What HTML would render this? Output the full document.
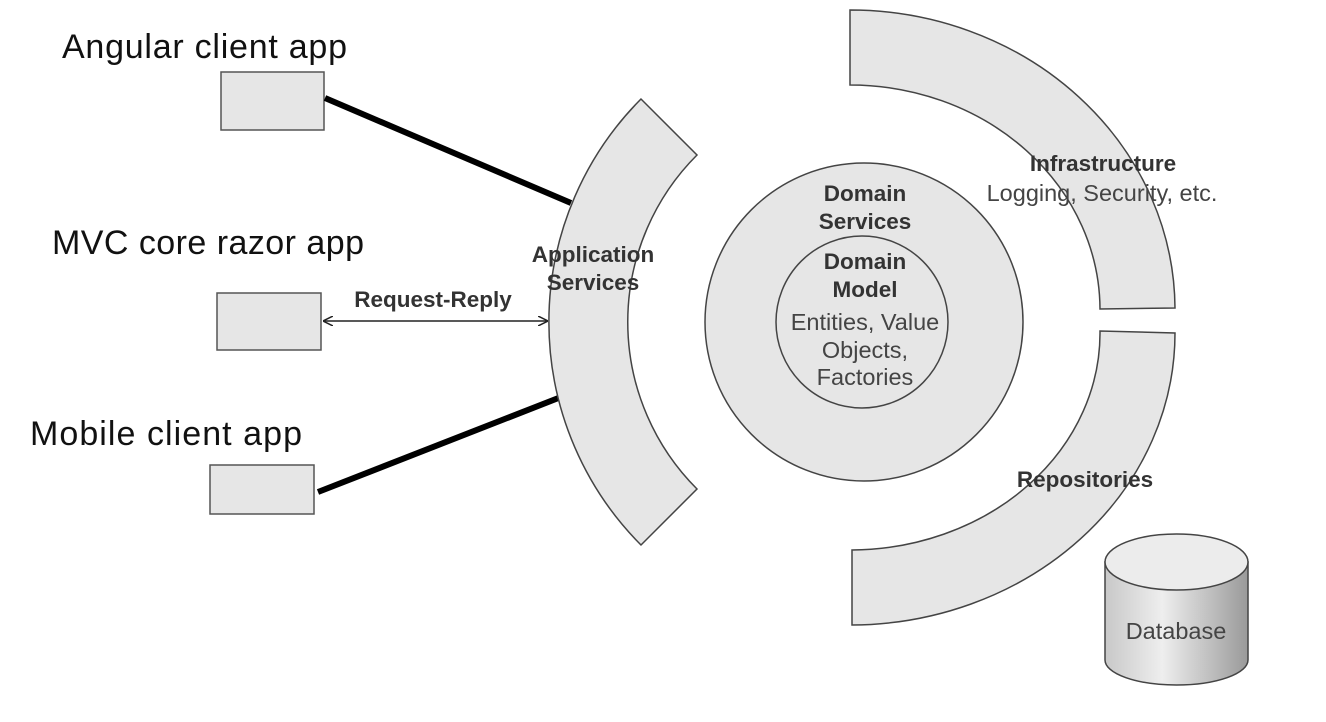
<!DOCTYPE html>
<html><head><style>
html,body{margin:0;padding:0;background:#fff;}
svg{display:block;}
.b{font-family:"Liberation Sans",sans-serif;font-weight:bold;fill:#333;font-size:22.5px;text-anchor:middle;}
.n{font-family:"Liberation Sans",sans-serif;fill:#444;font-size:23.5px;text-anchor:middle;}
.c{font-family:"Liberation Sans",sans-serif;fill:#111;font-size:34px;}
</style></head><body>
<svg width="1326" height="722" viewBox="0 0 1326 722">
<defs>
<linearGradient id="g" x1="0" x2="1">
<stop offset="0" stop-color="#c8c8c8"/><stop offset="0.4" stop-color="#eeeeee"/><stop offset="1" stop-color="#9a9a9a"/>
</linearGradient>
<marker id="a" markerWidth="10" markerHeight="10" refX="9" refY="5" orient="auto-start-reverse" markerUnits="userSpaceOnUse">
<path d="M0,0 L10,5 L0,10" fill="none" stroke="#222" stroke-width="1.5"/></marker>
</defs>
<text class="c" x="62" y="58" textLength="285">Angular client app</text>
<text class="c" x="52" y="254" textLength="312">MVC core razor app</text>
<text class="c" x="30" y="445" textLength="272">Mobile client app</text>
<rect x="221" y="72" width="103" height="58" fill="#e6e6e6" stroke="#555" stroke-width="1.5"/>
<rect x="217" y="293" width="104" height="57" fill="#e6e6e6" stroke="#555" stroke-width="1.5"/>
<rect x="210" y="465" width="104" height="49" fill="#e6e6e6" stroke="#555" stroke-width="1.5"/>
<line x1="325" y1="98" x2="571" y2="203" stroke="#000" stroke-width="6"/>
<line x1="318" y1="492" x2="561" y2="397" stroke="#000" stroke-width="6"/>
<line x1="324" y1="321" x2="547" y2="321" stroke="#222" stroke-width="1.5" marker-start="url(#a)" marker-end="url(#a)"/>
<text class="b" x="433" y="307">Request-Reply</text>
<path d="M641,99 A316,316 0 0 0 641,545 L697,489 A236,236 0 0 1 697,155 Z" fill="#e6e6e6" stroke="#444" stroke-width="1.5"/>
<text class="b" x="593" y="262">Application</text>
<text class="b" x="593" y="290">Services</text>
<path d="M850,10 A325,300 0 0 1 1175,308 L1100,309 A250,225 0 0 0 850,85 Z" fill="#e6e6e6" stroke="#444" stroke-width="1.5"/>
<text class="b" x="1103" y="171">Infrastructure</text>
<text class="n" x="1102" y="201">Logging, Security, etc.</text>
<path d="M1175,333 A325,292 0 0 1 852,625 L852,550 A250,217 0 0 0 1100,331 Z" fill="#e6e6e6" stroke="#444" stroke-width="1.5"/>
<text class="b" x="1085" y="487">Repositories</text>
<circle cx="864" cy="322" r="159" fill="#e6e6e6" stroke="#444" stroke-width="1.5"/>
<circle cx="862" cy="322" r="86" fill="#e6e6e6" stroke="#444" stroke-width="1.5"/>
<text class="b" x="865" y="201">Domain</text>
<text class="b" x="865" y="229">Services</text>
<text class="b" x="865" y="269">Domain</text>
<text class="b" x="865" y="297">Model</text>
<text class="n" x="865" y="330">Entities, Value</text>
<text class="n" x="865" y="358">Objects,</text>
<text class="n" x="865" y="385">Factories</text>
<path d="M1105,562 L1105,660 A71.5,25 0 0 0 1248,660 L1248,562 Z" fill="url(#g)" stroke="#444" stroke-width="1.5"/>
<ellipse cx="1176.5" cy="562" rx="71.5" ry="28" fill="#ececec" stroke="#444" stroke-width="1.5"/>
<text class="n" x="1176" y="639">Database</text>
</svg>
</body></html>
